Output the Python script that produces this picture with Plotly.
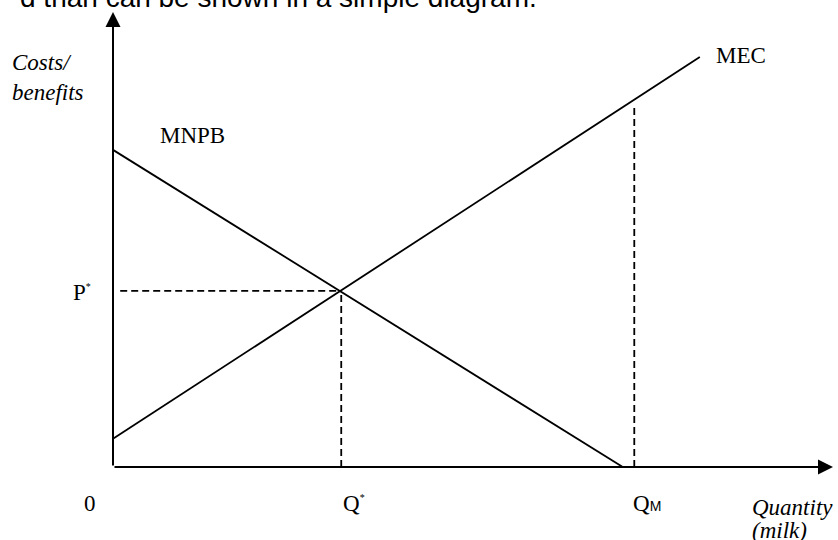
import plotly.graph_objects as go

# ---- data (economic units) ----
MEC_Q = [0.0, 8.15]
MEC_C = [0.62, 9.01]
MNPB_Q = [0.0, 7.08]
MNPB_B = [6.97, 0.0]
Q_STAR = 3.17
P_STAR = 3.87
Q_M = 7.24
Q_M_TOP = 7.89
P_DASH_START = 0.10
AXIS_MAX_X = 10.0
AXIS_MAX_Y = 10.0

SERIF = "Liberation Serif"
SANS = "Liberation Sans"
BLACK = "#000000"

fig = go.Figure()

line_style = dict(color=BLACK, width=1.8)
dash_style = dict(color=BLACK, width=1.8, dash="7px,4px")

fig.add_trace(go.Scatter(x=MEC_Q, y=MEC_C, mode="lines", line=line_style, hoverinfo="skip"))
fig.add_trace(go.Scatter(x=MNPB_Q, y=MNPB_B, mode="lines", line=line_style, hoverinfo="skip"))
# dashed guides
fig.add_trace(go.Scatter(x=[P_DASH_START, Q_STAR], y=[P_STAR, P_STAR], mode="lines", line=dash_style, hoverinfo="skip"))
fig.add_trace(go.Scatter(x=[Q_STAR, Q_STAR], y=[0, P_STAR], mode="lines", line=dash_style, hoverinfo="skip"))
fig.add_trace(go.Scatter(x=[Q_M, Q_M], y=[0, Q_M_TOP], mode="lines", line=dash_style, hoverinfo="skip"))

ann = []
# axes with arrowheads
ann.append(dict(x=0, y=AXIS_MAX_Y, ax=0, ay=0, xref="x", yref="y", axref="x", ayref="y",
                text="", showarrow=True, arrowhead=2, arrowsize=1.5, arrowwidth=2, arrowcolor=BLACK))
ann.append(dict(x=AXIS_MAX_X, y=0, ax=0, ay=0, xref="x", yref="y", axref="x", ayref="y",
                text="", showarrow=True, arrowhead=2, arrowsize=1.5, arrowwidth=2, arrowcolor=BLACK))

W, H = 838, 540
def px(v):
    return v / W
def py(v):
    return 1 - v / H

common = dict(showarrow=False, borderpad=0, borderwidth=0)
serif = lambda s, italic=False: dict(family=SERIF, size=s, color=BLACK, style="italic" if italic else "normal")

# clipped caption at the top
ann.append(dict(text="d than can be shown in a simple diagram.", xref="paper", yref="paper",
                x=px(537), y=py(-3), xanchor="right", yanchor="middle",
                font=dict(family=SANS, size=28, color=BLACK), **common))
ann.append(dict(text="Costs/<br>benefits", xref="paper", yref="paper", x=px(12), y=py(78),
                xanchor="left", yanchor="middle", align="left", font=serif(23, True), **common))
ann.append(dict(text="MNPB", xref="paper", yref="paper", x=px(192), y=py(135),
                xanchor="center", yanchor="middle", font=serif(23), **common))
ann.append(dict(text="MEC", xref="paper", yref="paper", x=px(741), y=py(55),
                xanchor="center", yanchor="middle", font=serif(23), **common))
ann.append(dict(text="P<sup><span style='font-size:10px'>*</span></sup>", xref="paper", yref="y",
                x=px(73), y=P_STAR, yshift=-2, xanchor="left", yanchor="middle", font=serif(23), **common))
ann.append(dict(text="0", xref="x", yref="paper", x=0, xshift=-23, y=py(503),
                xanchor="center", yanchor="middle", font=serif(23), **common))
ann.append(dict(text="Q<sup><span style='font-size:10px'>*</span></sup>", xref="x", yref="paper",
                x=Q_STAR, xshift=2, y=py(503), xanchor="left", yanchor="middle", font=serif(23), **common))
ann.append(dict(text="Q<span style='font-family:Liberation Sans;font-size:14px'>M</span>", xref="x", yref="paper",
                x=Q_M, xshift=-1, y=py(503), xanchor="left", yanchor="middle", font=serif(23), **common))
ann.append(dict(text="Quantity", xref="paper", yref="paper", x=px(752), y=py(507),
                xanchor="left", yanchor="middle", font=serif(23, True), **common))
ann.append(dict(text="(milk)", xref="paper", yref="paper", x=px(752), y=py(530),
                xanchor="left", yanchor="middle", font=serif(23, True), **common))

x0 = -113 / 72
x1 = (W - 113) / 72
y_top = 467 / 45.5
y_bot = (467 - H) / 45.5

fig.update_layout(
    width=W, height=H,
    margin=dict(l=0, r=0, t=0, b=0),
    paper_bgcolor="white", plot_bgcolor="white",
    showlegend=False,
    xaxis=dict(visible=False, range=[x0, x1], fixedrange=True),
    yaxis=dict(visible=False, range=[y_bot, y_top], fixedrange=True),
    annotations=ann,
)

fig.write_html("out.html", config={"displayModeBar": False},
               post_script="document.body.style.margin='0';document.body.style.overflow='hidden';")
